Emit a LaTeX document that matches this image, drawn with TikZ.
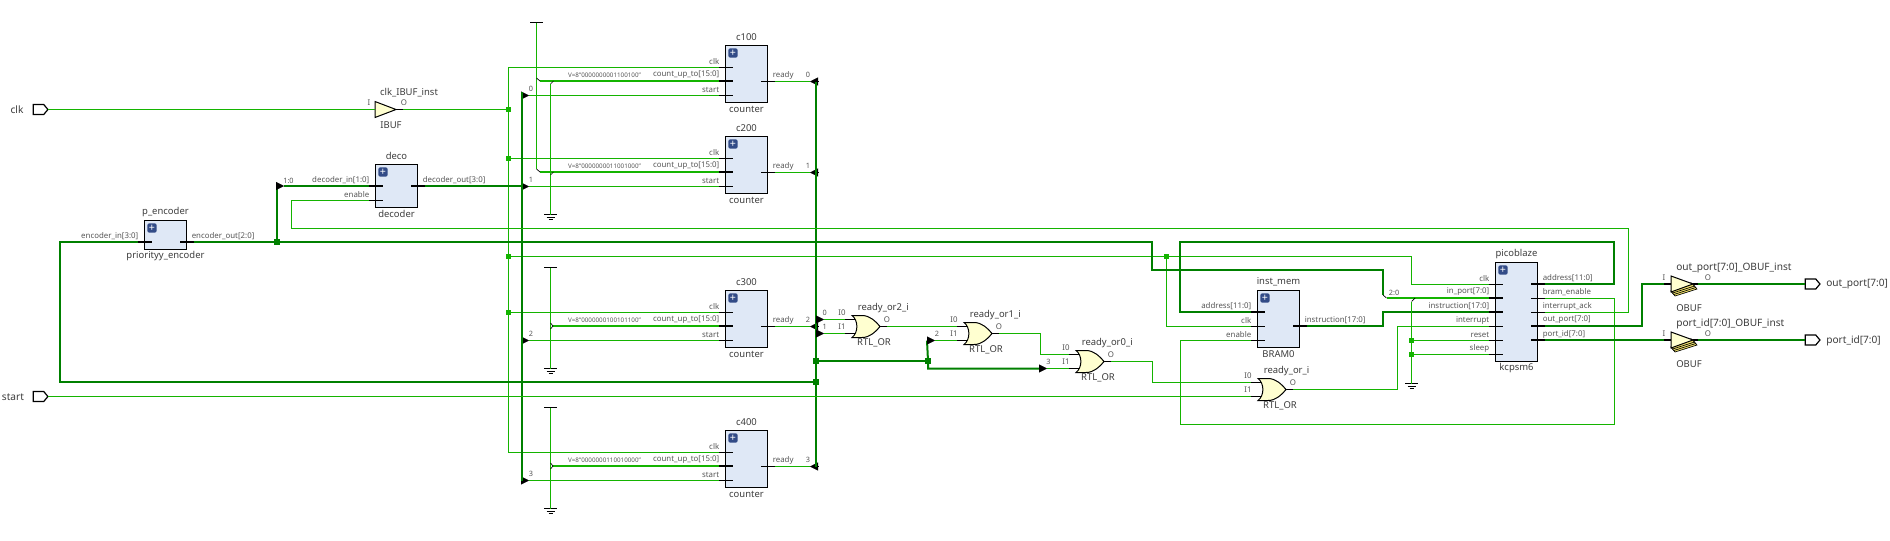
\documentclass[tikz,border=0pt]{standalone}
\usepackage{fontspec}
\setmainfont{Noto Sans}
\usepackage{tikz}
\usetikzlibrary{positioning,arrows.meta,calc,shapes.geometric,shapes.symbols}

\definecolor{wirelight}{RGB}{20,180,0}
\definecolor{busdark}{RGB}{0,128,0}
\definecolor{blockblue}{RGB}{223,232,246}
\definecolor{plusblue}{RGB}{50,75,135}
\definecolor{gatecream}{RGB}{255,255,208}
\definecolor{obufyellow}{RGB}{245,230,110}
\definecolor{textdark}{RGB}{60,60,60}
\definecolor{textpin}{RGB}{85,85,85}

\tikzset{
    wire/.style={draw=wirelight, line width=0.75pt},
    bus/.style={draw=busdark, line width=1.5pt},
    constbus/.style={draw=wirelight, line width=1.5pt},
    stub/.style={draw=black, line width=0.75pt},
    thickstub/.style={draw=black, line width=1.5pt},
    tick/.style={draw=black, line width=0.5pt},
    block/.style={draw=black, fill=blockblue, line width=0.75pt, inner sep=0pt, outer sep=0pt, minimum width=31.5pt, anchor=north west},
    plusicon/.style={fill=plusblue, rounded corners=1.5pt, text=white, inner sep=0pt, minimum size=7pt, font=\fontsize{8}{8}\selectfont\bfseries},
    instlabel/.style={text=textdark, inner sep=0pt, font=\fontsize{7.1}{8}\selectfont},
    portlabel/.style={text=textdark, inner sep=0pt, font=\fontsize{7.6}{8}\selectfont},
    pinlabel/.style={text=textpin, inner sep=0pt, font=\fontsize{5.9}{7}\selectfont},
    constlabel/.style={text=textpin, inner sep=0pt, font=\fontsize{4.7}{5}\selectfont},
    bitlabel/.style={text=textpin, inner sep=0pt, font=\fontsize{5.5}{6}\selectfont},
    port/.style={draw=black, fill=white, line width=0.9pt, signal, signal to=east, signal pointer angle=100, minimum width=11pt, minimum height=7.5pt, inner sep=0pt, outer sep=0pt},
    jlight/.style={fill=wirelight, inner sep=0pt, minimum size=3.75pt},
    jdark/.style={fill=busdark, inner sep=0pt, minimum size=4.5pt},
    ripper/.style={draw=black, line width=0.3pt, -{Triangle[length=6pt,width=6pt]}},
    buffer/.style={draw=black, fill=gatecream, line width=0.75pt, isosceles triangle, isosceles triangle stretches, shape border rotate=0, inner sep=0pt, outer sep=0pt, anchor=apex},
}

% block with its two names and the plus icon
\newcommand{\blockbox}[6]{%
    \node[block, minimum height=#4*0.75pt] (#1) at (#2,#3) {};
    \node[plusicon] (#1-plus) at ($(#1.north west)+(7.5,7.5)$) {+};
    \node[instlabel] (#1-inst) at ($(#1.north)+(0,-8.5)$) {#5};
    \node[instlabel] (#1-type) at ($(#1.south)+(0,6.5)$) {#6};
}
% pins on the left and right of a block
\newcommand{\pinleft}[5][stub]{%
    \coordinate (#2-#3) at ($(#2.west |- 0,#4)+(-7,0)$);
    \draw[#1] (#2-#3) -- ++(14,0);
    \node[pinlabel, anchor=east] (#2-#3-t) at ($(#2-#3)+(1,-6)$) {#5};
}
\newcommand{\pinright}[5][stub]{%
    \coordinate (#2-#3) at ($(#2.east |- 0,#4)+(7,0)$);
    \draw[#1] (#2-#3) -- ++(-14,0);
    \node[pinlabel, anchor=west] (#2-#3-t) at ($(#2-#3)+(-2,-6)$) {#5};
}
% or gate, #2 and #3 give its left tips and its middle
\newcommand{\orgate}[4]{%
    \begin{scope}[shift={(#2,#3)}]
        \coordinate (#1-i0) at (-7,-7);
        \coordinate (#1-i1) at (-7,7);
        \coordinate (#1-o) at (35,0);
        \draw[stub] (#1-i0) -- (4,-7);
        \draw[stub] (#1-i1) -- (4,7);
        \draw[stub] (28,0) -- (#1-o);
        \draw[draw=black, fill=gatecream, line width=0.75pt] (0,-11) -- (10,-11) .. controls (18,-11) and (24,-5) .. (28,0) .. controls (24,5) and (18,11) .. (10,11) -- (0,11) .. controls (6.5,6) and (6.5,-6) .. (0,-11) -- cycle;
        \node[instlabel, anchor=west] (#1-inst) at (5.5,-18) {#4};
        \node[instlabel] (#1-type) at (22,16) {RTL\_OR};
        \node[pinlabel] (#1-ti0) at (-10,-13.5) {I0};
        \node[pinlabel] (#1-ti1) at (-10,0.5) {I1};
        \node[pinlabel] (#1-to) at (35,-6.5) {O};
    \end{scope}
}
% output buffer with its stacked lines
\newcommand{\obufsym}[3]{%
    \begin{scope}[shift={(1671,#2)}]
        \coordinate (#1-in) at (-7,0);
        \coordinate (#1-out) at (27,0);
        \draw[thickstub] (#1-in) -- (0,0);
        \draw[thickstub] (20,0) -- (#1-out);
        \foreach \k in {5,3.5,2} {\draw[draw=black, fill=obufyellow, line width=0.5pt] (\k*0.8,7+\k) -- (22+\k*0.8,\k) -- (20,-1) -- (0,7) -- cycle;}
        \node[buffer, minimum height=16.5pt, minimum width=12pt] (#1) at (22,0) {};
        \node[portlabel, anchor=west] (#1-inst) at (5,-16) {#3};
        \node[instlabel, anchor=west] (#1-type) at (5,24) {OBUF};
        \node[pinlabel] (#1-ti) at (-7,-6) {I};
        \node[pinlabel] (#1-to) at (37,-6) {O};
    \end{scope}
}
\newcommand{\gndsym}[3]{%
    \coordinate (#1) at (#2,#3);
    \draw[stub] ($(#1)+(-6.5,0)$) -- ++(13,0);
    \draw[stub] ($(#1)+(-4,2.5)$) -- ++(8,0);
    \draw[stub] ($(#1)+(-2,5)$) -- ++(4,0);
}
\newcommand{\vccsym}[3]{%
    \coordinate (#1) at (#2,#3);
    \draw[stub] ($(#1)+(-6.5,0)$) -- ++(13,0);
}

\begin{document}
\begin{tikzpicture}[x=0.75pt, y=-0.75pt]
    \useasboundingbox (0,0) rectangle (1890,540);

    % Ports
    \node[port] (clk) at (38.5,109.5) {};
    \node[portlabel] (clk-t) at (17,109.5) {clk};
    \node[port] (start) at (38.5,396.5) {};
    \node[portlabel] (start-t) at (13,397) {start};
    \node[port] (outport) at (1810.5,284) {};
    \node[portlabel, anchor=west] (outport-t) at (1826,284.5) {out\_port[7:0]};
    \node[port] (portid) at (1810.5,340) {};
    \node[portlabel, anchor=west] (portid-t) at (1826,340.5) {port\_id[7:0]};

    % Input buffer
    \node[buffer, minimum height=15.75pt, minimum width=12pt] (ibuf) at (396,109.5) {};
    \coordinate (ibuf-o) at (403,109.5);
    \draw[stub] (ibuf.apex) -- (ibuf-o);
    \node[instlabel] (ibuf-inst) at (409,93) {clk\_IBUF\_inst};
    \node[instlabel] (ibuf-type) at (391,125) {IBUF};
    \node[pinlabel] (ibuf-ti) at (369,103) {I};
    \node[pinlabel] (ibuf-to) at (404,103) {O};

    % Encoder and decoder
    \blockbox{penc}{144.5}{220.5}{29}{p\_encoder}{priorityy\_encoder}
    \pinleft[thickstub]{penc}{in}{242}{encoder\_in[3:0]}
    \pinright[thickstub]{penc}{out}{242}{encoder\_out[2:0]}
    \blockbox{deco}{375.5}{164.5}{43}{deco}{decoder}
    \pinleft[thickstub]{deco}{in}{186}{decoder\_in[1:0]}
    \pinleft{deco}{en}{200.5}{enable}
    \pinright[thickstub]{deco}{out}{186}{decoder\_out[3:0]}

    % Counters
    \foreach \nm/\ty/\val/\bit in {c100/45.5/0000000001100100/0, c200/136.5/0000000011001000/1, c300/290.5/0000000100101100/2, c400/430.5/0000000110010000/3} {
        \blockbox{\nm}{725.5}{\ty}{57}{\nm}{counter}
        \pinleft{\nm}{clk}{\ty+22}{clk}
        \pinleft[thickstub]{\nm}{count}{\ty+35.5}{count\_up\_to[15:0]}
        \pinleft{\nm}{start}{\ty+50}{start}
        \pinright{\nm}{ready}{\ty+36}{ready}
        \node[constlabel] (\nm-val) at ($(\nm-count)+(-114,-6)$) {V=8"\val"};
        % Rippers on both buses
        \coordinate (\nm-ripa) at (521,\ty+50);
        \coordinate (\nm-ripb) at (529,\ty+50);
        \draw[ripper] (\nm-ripa) -- (\nm-ripb);
        \draw[wire] (\nm-ripb) -- (\nm-start);
        \node[bitlabel] (\nm-bita) at (531,\ty+43.5) {\bit};
        \coordinate (\nm-ripc) at (818,\ty+36);
        \coordinate (\nm-ripd) at (810,\ty+36);
        \draw[ripper] (\nm-ripc) -- (\nm-ripd);
        \draw[wire] (\nm-ready) -- (\nm-ripd);
        \node[bitlabel] (\nm-bitb) at (808,\ty+29.5) {\bit};
    }

    % Memory and processor
    \blockbox{imem}{1257.5}{290.5}{57}{inst\_mem}{BRAM0}
    \pinleft[thickstub]{imem}{addr}{312}{address[11:0]}
    \pinleft{imem}{clk}{326.5}{clk}
    \pinleft{imem}{en}{340.5}{enable}
    \pinright[thickstub]{imem}{instr}{326}{instruction[17:0]}
    \blockbox{pico}{1495.5}{262.5}{99}{picoblaze}{kcpsm6}
    \pinleft{pico}{clk}{284.5}{clk}
    \pinleft[thickstub]{pico}{inp}{298}{in\_port[7:0]}
    \pinleft[thickstub]{pico}{instr}{312}{instruction[17:0]}
    \pinleft{pico}{int}{326.5}{interrupt}
    \pinleft{pico}{rst}{340.5}{reset}
    \pinleft{pico}{sleep}{354.5}{sleep}
    \pinright[thickstub]{pico}{addr}{284}{address[11:0]}
    \pinright{pico}{bram}{298.5}{bram\_enable}
    \pinright{pico}{ack}{312.5}{interrupt\_ack}
    \pinright[thickstub]{pico}{outp}{326}{out\_port[7:0]}
    \pinright[thickstub]{pico}{pid}{340}{port\_id[7:0]}

    % Or gates and output buffers
    \orgate{orb}{852}{326.5}{ready\_or2\_i}
    \orgate{orc}{964}{333.5}{ready\_or1\_i}
    \orgate{ord}{1076}{361.5}{ready\_or0\_i}
    \orgate{ore}{1258}{389.5}{ready\_or\_i}
    \obufsym{obufa}{284}{out\_port[7:0]\_OBUF\_inst}
    \obufsym{obufb}{340}{port\_id[7:0]\_OBUF\_inst}

    % Supply and ground symbols
    \vccsym{vcca}{536.5}{22.5}
    \vccsym{vccb}{550.5}{267.5}
    \vccsym{vccc}{550.5}{407.5}
    \gndsym{gnda}{550.5}{214.5}
    \gndsym{gndb}{550.5}{368.5}
    \gndsym{gndc}{550.5}{508.5}
    \gndsym{gndd}{1411.5}{383.5}

    % Junctions
    \node[jlight] (jclka) at (508.5,109.5) {};
    \node[jlight] (jclkb) at (508.5,158.5) {};
    \node[jlight] (jclkc) at (508.5,256.5) {};
    \node[jlight] (jclkd) at (508.5,312.5) {};
    \node[jlight] (jclke) at (1166.5,256.5) {};
    \node[jlight] (jgnda) at (1411.5,340.5) {};
    \node[jlight] (jgndb) at (1411.5,354.5) {};
    \node[jdark] (jenc) at (277,242) {};
    \node[jdark] (jrdya) at (816,361) {};
    \node[jdark] (jrdyb) at (816,382) {};
    \node[jdark] (jrdyc) at (928,361) {};

    % Clock
    \draw[wire] (clk.east) -- (ibuf.lower side);
    \draw[wire] (ibuf-o) -- (jclka.center);
    \draw[wire] (c100-clk) -- (c100-clk -| jclka) -- (c400-clk -| jclka) -- (c400-clk);
    \draw[wire] (jclkb.center) -- (c200-clk);
    \draw[wire] (jclkd.center) -- (c300-clk);
    \draw[wire] (jclkc.center) -- (jclke.center) -- (jclke -| jgnda) -- (pico-clk -| jgnda) -- (pico-clk);
    \draw[wire] (jclke.center) |- (imem-clk);

    % Constants on the counters
    \foreach \nm/\ax in {c100/540, c200/540, c300/553, c400/553} {
        \coordinate (\nm-bus) at (\ax,0 |- \nm-count);
        \draw[constbus] (\nm-bus) -- (\nm-count);
    }
    \draw[wire] (vcca) -- (536.5,169);
    \draw[wire] (550.5,84) -- (gnda);
    \draw[wire] (vccb) -- (gndb);
    \draw[wire] (vccc) -- (gndc);
    \draw[tick] (536.5,78) -- (c100-bus);
    \draw[tick] (536.5,169) -- (c200-bus);
    \draw[tick] (550.5,84) -- (553.5,81);
    \draw[tick] (550.5,175) -- (553.5,172);
    \draw[tick] (550.5,323) -- (c300-bus) -- (550.5,329);
    \draw[tick] (550.5,463) -- (c400-bus) -- (550.5,469);

    % Buses
    \draw[bus] (penc-in) -| (60,382) -- (jrdyb.center);
    \draw[bus] (penc-out) -- (1152,242) |- (1383,270) -- (1383,295);
    \coordinate (riprip) at (277,186);
    \draw[bus] (jenc.center) -- (riprip);
    \coordinate (ripa) at (276,186);
    \coordinate (ripb) at (284,186);
    \draw[ripper] (ripa) -- (ripb);
    \draw[bus] (ripb) -- (deco-in);
    \node[bitlabel] (ripb-t) at (288.5,180.5) {1:0};
    \draw[bus] (deco-out) -- (522,186);
    \draw[bus] (522,92) -- (522,480.5);
    \draw[bus] (816,81.5) -- (816,466.5);
    \draw[bus] (jrdya.center) -- (jrdyc.center);
    \coordinate (ripc) at (927,340.5);
    \coordinate (ripd) at (935,340.5);
    \coordinate (ripe) at (1039,368.5);
    \coordinate (ripf) at (1047,368.5);
    \draw[bus] (ripc) -- (jrdyc.center) -- (928,368.5) -- (ripe);
    \draw[ripper] (ripc) -- (ripd);
    \draw[ripper] (ripe) -- (ripf);
    \node[bitlabel] (ripd-t) at (937,334) {2};
    \node[bitlabel] (ripf-t) at (1048.5,362) {3};

    % Ready outputs into the or gates
    \coordinate (ripg) at (816,319.5);
    \coordinate (riph) at (824,319.5);
    \coordinate (ripi) at (816,333.5);
    \coordinate (ripj) at (824,333.5);
    \draw[ripper] (ripg) -- (riph);
    \draw[ripper] (ripi) -- (ripj);
    \node[bitlabel] (riph-t) at (824.7,313) {0};
    \node[bitlabel] (ripj-t) at (824.7,327) {1};
    \draw[wire] (riph) -- (orb-i0);
    \draw[wire] (ripj) -- (orb-i1);
    \draw[wire] (orb-o) -- (orc-i0);
    \draw[wire] (ripd) -- (orc-i1);
    \draw[wire] (ripf) -- (ord-i1);
    \draw[wire] (orc-o) -- (1040.5,333.5) |- (ord-i0);
    \draw[wire] (ord-o) -- (1152.5,361.5) |- (ore-i0);
    \draw[wire] (start.east) -- (ore-i1);
    \draw[wire] (ore-o) -- (1397.5,389.5) |- (pico-int);

    % Processor and memory
    \draw[bus] (pico-addr) -| (1614,242) -| (1180,312) -- (imem-addr);
    \draw[bus] (imem-instr) -- (1383,326) |- (pico-instr);
    \coordinate (inpbus) at (1386.5,298);
    \draw[tick] (1383,295) -- (inpbus);
    \draw[constbus] (inpbus) -- (pico-inp);
    \node[bitlabel] (inpbus-t) at (1394,292.5) {2:0};
    \draw[tick] (1411.5,301.5) -- (1415,298);
    \draw[wire] (1411.5,301.5) -- (gndd);
    \draw[wire] (jgnda.center) -- (pico-rst);
    \draw[wire] (jgndb.center) -- (pico-sleep);
    \draw[wire] (pico-bram) -| (1614.5,424.5) -| (1180.5,340.5) -- (imem-en);
    \draw[wire] (pico-ack) -| (1628.5,228.5) -| (291.5,200.5) -- (deco-en);

    % Outputs
    \draw[bus] (pico-outp) -| (1642,284) -- (obufa-in);
    \draw[bus] (pico-pid) -- (obufb-in);
    \draw[bus] (obufa-out) -- (outport.west);
    \draw[bus] (obufb-out) -- (portid.west);
\end{tikzpicture}
\end{document}
